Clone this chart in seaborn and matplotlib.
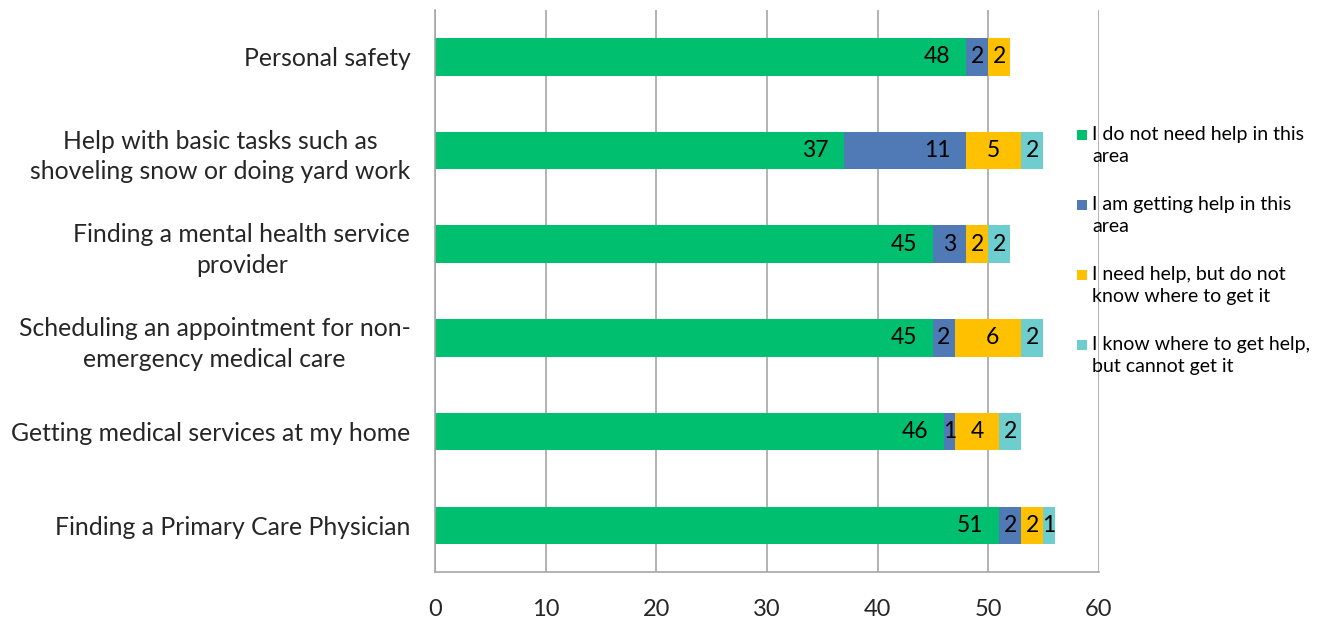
import numpy as np
import pandas as pd
import matplotlib.pyplot as plt
import seaborn as sns
from matplotlib.patches import Rectangle

# Data
categories = [
    "Personal safety",
    "Help with basic tasks such as\nshoveling snow or doing yard work",
    "Finding a mental health service\nprovider",
    "Scheduling an appointment for non-\nemergency medical care",
    "Getting medical services at my home",
    "Finding a Primary Care Physician",
]
series_names = [
    "I do not need help in this\narea",
    "I am getting help in this\narea",
    "I need help, but do not\nknow where to get it",
    "I know where to get help,\nbut cannot get it",
]
no_need = [48, 37, 45, 45, 46, 51]
getting_help = [2, 11, 3, 2, 1, 2]
need_no_where = [2, 5, 2, 6, 4, 2]
cannot_get = [0, 2, 2, 2, 2, 1]
colors = ["#00BF6F", "#4F7AB5", "#FFC000", "#6DCDCF"]
x_ticks = [0, 10, 20, 30, 40, 50, 60]

sns.set_style("white")
plt.rcParams['font.family'] = ['Lato', 'DejaVu Sans']

values = np.array([no_need, getting_help, need_no_where, cannot_get], dtype=float)
cum = np.cumsum(values, axis=0)

fig = plt.figure(figsize=(13.27, 6.2), dpi=100)
ax = fig.add_axes([0.328, 0.077, 0.5, 0.907])

# stacked bars: draw cumulative totals from the outermost layer inward
for i in reversed(range(len(series_names))):
    df = pd.DataFrame({"cat": categories, "val": cum[i]})
    sns.barplot(data=df, x="val", y="cat", orient="h", color=colors[i],
                saturation=1, width=0.4, linewidth=0, ax=ax, zorder=2)

# value labels (Excel "inside end" style)
for i in range(len(series_names)):
    for j in range(len(categories)):
        v = values[i, j]
        if v <= 0:
            continue
        end = cum[i, j]
        mid = end - v / 2
        xpos = max(mid, end - 2.6)
        ax.text(xpos, j, f"{int(v)}", ha="center", va="center",
                fontsize=16.5, color="black", zorder=3)

ax.set_xlim(0, 60)
ax.set_ylim(len(categories) - 0.5, -0.5)
ax.set_xticks(x_ticks)
ax.set_xticklabels([str(t) for t in x_ticks], fontsize=17)
ax.set_xlabel("")
ax.set_ylabel("")
ax.set_yticks(range(len(categories)))
ax.set_yticklabels(categories, fontsize=17.8, ha="right", multialignment="center",
                   linespacing=1.4)
ax.tick_params(axis="y", length=0, pad=18)

# minor ticks on category boundaries
ax.set_yticks(np.arange(-0.5, len(categories), 1), minor=True)
ax.tick_params(axis="y", which="minor", length=5, color="#A6A6A6", direction="out")
ax.tick_params(axis="x", length=8, color="#A6A6A6", direction="out", pad=11)

ax.grid(axis="x", color="#A6A6A6", linewidth=1.2, zorder=0)
ax.set_axisbelow(True)
for s in ["top", "right"]:
    ax.spines[s].set_visible(False)
for s in ["left", "bottom"]:
    ax.spines[s].set_color("#A6A6A6")
    ax.spines[s].set_linewidth(1.2)

# legend drawn by hand so the marker sits on the first text line
W, H = 1327.0, 620.0
for k, (name, c) in enumerate(zip(series_names, colors)):
    y_line = 135 + k * 70
    fig.patches.append(Rectangle((1077 / W, 1 - (y_line + 5) / H), 10 / W, 10 / H,
                                 transform=fig.transFigure, facecolor=c,
                                 edgecolor="none", zorder=5))
    fig.text(1092 / W, 1 - (y_line - 9) / H, name, ha="left", va="top",
             fontsize=14, linespacing=1.37, color="black")

fig.savefig("out.png", dpi=100)
